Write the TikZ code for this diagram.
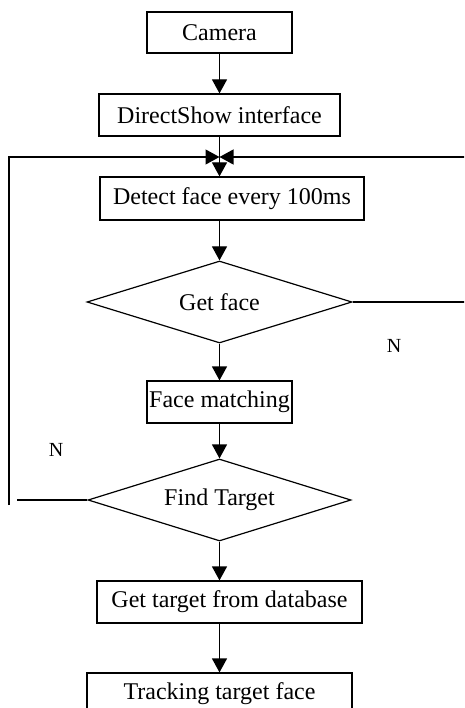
\documentclass[tikz,border=0pt]{standalone}
\usepackage{fontspec}
\setmainfont{Liberation Serif}
\usetikzlibrary{shapes.geometric,arrows.meta}
\begin{document}
\begin{tikzpicture}[x=1pt,y=-1pt,
  every node/.style={font=\fontsize{24}{28}\selectfont},
  box/.style={draw,line width=1.2pt,rectangle,inner sep=0pt},
  dia/.style={draw,line width=1.2pt,diamond,aspect=3.23,inner sep=0pt,minimum width=265pt,minimum height=82pt},
  lbl/.style={font=\fontsize{20}{24}\selectfont},
  conn/.style={line width=1.2pt},
  arr/.style={conn,-{Triangle[width=15pt,length=14pt]}}]
\useasboundingbox (0,0) rectangle (464,708);
\clip (0,0) rectangle (464,708);
\node[box,minimum width=145pt,minimum height=41pt] (cam) at (219.5,32.5) {Camera};
\node[box,minimum width=241pt,minimum height=42pt] (ds) at (219.5,115) {DirectShow interface};
\node[box,minimum width=264pt,minimum height=43pt] (det) at (232,198.5) {Detect face every 100ms};
\node[dia] (gf) at (219.5,302) {Get face};
\node[box,minimum width=145pt,minimum height=42pt] (fm) at (219.5,402) {Face matching};
\node[dia,minimum width=263pt] (ft) at (219.5,500) {Find Target};
\node[box,minimum width=265pt,minimum height=42pt] (gt) at (229.5,602) {Get target from database};
\node[box,minimum width=265pt,minimum height=42pt] (tr) at (219.5,694) {Tracking target face};
\node[lbl] (n1) at (394,346) {N};
\node[lbl] (n2) at (56,450) {N};
\coordinate (j) at (219.5,157);
\coordinate (lend) at (17,500);
\coordinate (lbot) at (9,505);
\coordinate (ltop) at (9,157);
\coordinate (rb) at (467,302);
\coordinate (rt) at (467,157);
\draw[arr] (cam.south) -- (ds.north);
\draw[arr] (ds.south) -- (ds.south |- det.north);
\draw[arr] (lbot) -- (ltop) -- (j);
\draw[arr] (gf.east) -- (rb) -- (rt) -- (j);
\draw[conn] (ft.west) -- (lend);
\draw[arr] (gf.north |- det.south) -- (gf.north);
\draw[arr] (gf.south) -- (fm.north);
\draw[arr] (fm.south) -- (ft.north);
\draw[arr] (ft.south) -- (ft.south |- gt.north);
\draw[arr] (tr.north |- gt.south) -- (tr.north);
\end{tikzpicture}
\end{document}
